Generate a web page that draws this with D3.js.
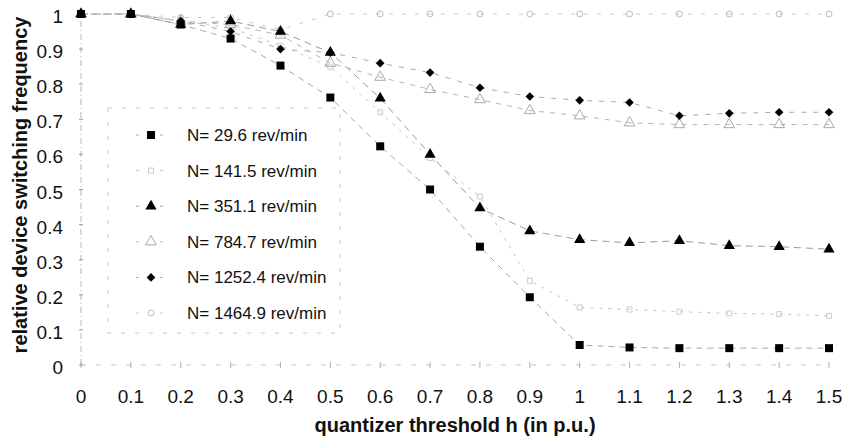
<!DOCTYPE html>
<html>
<head>
<meta charset="utf-8">
<script src="https://cdn.jsdelivr.net/npm/d3@7"></script>
<style>
  body { margin: 0; background: #fff; }
  svg { display: block; font-family: "Liberation Sans", Arial, sans-serif; }
</style>
</head>
<body>
<div id="chart"></div>
<script>
// Data
var thresholds = [0, 0.1, 0.2, 0.3, 0.4, 0.5, 0.6, 0.7, 0.8, 0.9, 1.0, 1.1, 1.2, 1.3, 1.4, 1.5];
var xTicks = ["0", "0.1", "0.2", "0.3", "0.4", "0.5", "0.6", "0.7", "0.8", "0.9", "1", "1.1", "1.2", "1.3", "1.4", "1.5"];
var yTicks = [0, 0.1, 0.2, 0.3, 0.4, 0.5, 0.6, 0.7, 0.8, 0.9, 1];

var n29 = [1, 1, 0.97, 0.93, 0.853, 0.762, 0.623, 0.5, 0.337, 0.193, 0.057, 0.05, 0.048, 0.048, 0.048, 0.048];
var n141 = [1, 1, 0.98, 0.96, 0.91, 0.85, 0.72, 0.59, 0.48, 0.24, 0.164, 0.158, 0.152, 0.147, 0.145, 0.14];
var n351 = [1, 1, 0.97, 0.98, 0.95, 0.89, 0.76, 0.6, 0.447, 0.382, 0.357, 0.348, 0.354, 0.34, 0.337, 0.33];
var n784 = [1, 1, 0.98, 0.97, 0.94, 0.86, 0.82, 0.785, 0.756, 0.725, 0.71, 0.69, 0.685, 0.685, 0.685, 0.685];
var n1252 = [1, 1, 0.98, 0.95, 0.9, 0.89, 0.86, 0.833, 0.79, 0.765, 0.754, 0.748, 0.71, 0.717, 0.72, 0.72];
var n1464 = [1, 1, 0.99, 0.99, 0.955, 1, 1, 1, 1, 1, 1, 1, 1, 1, 1, 1];

var seriesNames = ["N= 29.6 rev/min", "N= 141.5 rev/min", "N= 351.1 rev/min", "N= 784.7 rev/min", "N= 1252.4 rev/min", "N= 1464.9 rev/min"];
var seriesValues = [n29, n141, n351, n784, n1252, n1464];

// diamond that is as wide as it is tall
var squareDiamond = {
  draw: function(context, size){
    var r = Math.sqrt(size) / 1.5;
    context.moveTo(0, -r);
    context.lineTo(r, 0);
    context.lineTo(0, r);
    context.lineTo(-r, 0);
    context.closePath();
  }
};

// Style per series
var styles = [
  {shape: d3.symbolSquare, size: 64, fill: "#000", stroke: "none", line: "#a8a8a8", dash: "6,5"},
  {shape: d3.symbolSquare, size: 25, fill: "none", stroke: "#cccccc", line: "#c4c4c4", dash: "3,6"},
  {shape: d3.symbolTriangle, size: 55, fill: "#000", stroke: "none", line: "#9a9a9a", dash: "7,5"},
  {shape: d3.symbolTriangle, size: 50, fill: "none", stroke: "#a8a8a8", line: "#b4b4b4", dash: "5,6"},
  {shape: squareDiamond, size: 42, fill: "#000", stroke: "none", line: "#aaaaaa", dash: "5,7"},
  {shape: d3.symbolCircle, size: 28, fill: "none", stroke: "#bcbcbc", line: "#cacaca", dash: "4,9"}
];

var width = 851, height = 438;

var svg = d3.select("#chart").append("svg")
  .attr("width", width)
  .attr("height", height);

var xscale = d3.scaleLinear().domain([0, 1.5]).range([81, 829]);
var yscale = d3.scaleLinear().domain([0, 1]).range([365, 14]);

// y axis (faint dash-dot line)
svg.append("line")
  .attr("x1", xscale(0)).attr("x2", xscale(0))
  .attr("y1", yscale(0)).attr("y2", yscale(1))
  .attr("stroke", "#b5b5b5").attr("stroke-dasharray", "6,3,1,3");

// x axis (faint dashed line)
svg.append("line")
  .attr("x1", xscale(0)).attr("x2", xscale(1.5))
  .attr("y1", yscale(0)).attr("y2", yscale(0))
  .attr("stroke", "#c4c4c4").attr("stroke-dasharray", "5,10");

// small tick marks
svg.selectAll(".ytick").data(yTicks).enter().append("line")
  .attr("class", "ytick")
  .attr("x1", xscale(0) - 2).attr("x2", xscale(0) + 2)
  .attr("y1", d => yscale(d)).attr("y2", d => yscale(d))
  .attr("stroke", "#9a9a9a");

svg.selectAll(".xtick").data(thresholds).enter().append("line")
  .attr("class", "xtick")
  .attr("x1", d => xscale(d)).attr("x2", d => xscale(d))
  .attr("y1", yscale(0) - 3).attr("y2", yscale(0) + 3)
  .attr("stroke", "#b0b0b0");

// tick labels
svg.selectAll(".ylabel").data(yTicks).enter().append("text")
  .attr("class", "ylabel")
  .attr("x", 63)
  .attr("y", d => yscale(d) + 9)
  .attr("text-anchor", "end")
  .attr("font-size", 19)
  .attr("fill", "#111")
  .text(d => d);

svg.selectAll(".xlabel").data(thresholds).enter().append("text")
  .attr("class", "xlabel")
  .attr("x", d => xscale(d))
  .attr("y", 403)
  .attr("text-anchor", "middle")
  .attr("font-size", 19)
  .attr("fill", "#111")
  .text((d, i) => xTicks[i]);

// axis titles
svg.append("text")
  .attr("x", 455).attr("y", 432)
  .attr("text-anchor", "middle")
  .attr("font-size", 20)
  .attr("font-weight", "bold")
  .attr("fill", "#111")
  .text("quantizer threshold h (in p.u.)");

svg.append("text")
  .attr("transform", "translate(27,185) rotate(-90)")
  .attr("text-anchor", "middle")
  .attr("font-size", 20)
  .attr("font-weight", "bold")
  .attr("fill", "#111")
  .text("relative device switching frequency");

// lines
var line = d3.line()
  .x((d, i) => xscale(thresholds[i]))
  .y(d => yscale(d));

seriesValues.forEach(function(vals, k){
  svg.append("path")
    .datum(vals)
    .attr("d", line)
    .attr("fill", "none")
    .attr("stroke", styles[k].line)
    .attr("stroke-width", 1)
    .attr("stroke-dasharray", styles[k].dash);
});

// markers (draw faint ones first, black on top)
[5, 1, 3, 4, 2, 0].forEach(function(k){
  var st = styles[k];
  svg.selectAll(".m" + k).data(seriesValues[k]).enter().append("path")
    .attr("class", "m" + k)
    .attr("d", d3.symbol().type(st.shape).size(st.size))
    .attr("transform", (d, i) => "translate(" + xscale(thresholds[i]) + "," + yscale(d) + ")")
    .attr("fill", st.fill)
    .attr("stroke", st.stroke)
    .attr("stroke-width", 1);
});

// legend box
var legend = svg.append("g").attr("class", "legend");

legend.append("rect")
  .attr("x", 108).attr("y", 108)
  .attr("width", 232).attr("height", 225)
  .attr("fill", "#fff")
  .attr("stroke", "#c8c8c8")
  .attr("stroke-dasharray", "4,10");

seriesNames.forEach(function(name, k){
  var st = styles[k];
  var yy = 135 + k * 35.6;
  legend.append("line")
    .attr("x1", 136).attr("x2", 168)
    .attr("y1", yy).attr("y2", yy)
    .attr("stroke", st.line)
    .attr("stroke-dasharray", "3,9");
  legend.append("path")
    .attr("d", d3.symbol().type(st.shape).size(st.size))
    .attr("transform", "translate(151," + yy + ")")
    .attr("fill", st.fill === "none" ? "#fff" : st.fill)
    .attr("stroke", st.stroke);
  legend.append("text")
    .attr("x", 187).attr("y", yy + 6)
    .attr("font-size", 17)
    .attr("fill", "#111")
    .text(name);
});
</script>
</body>
</html>
